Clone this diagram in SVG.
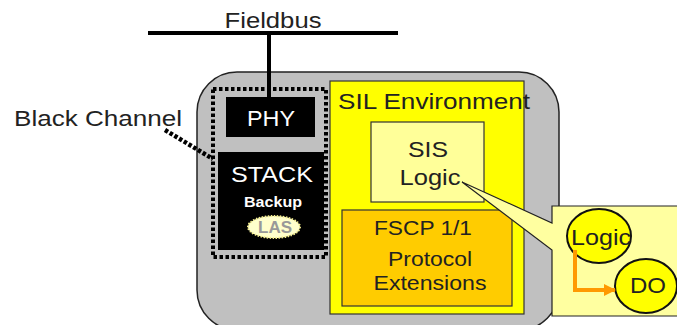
<svg xmlns="http://www.w3.org/2000/svg" width="677" height="325" viewBox="0 0 677 325">
  <defs>
    <style>
      text { font-family: "Liberation Sans", Arial, sans-serif; fill: #222; }
      .lbl { font-size: 22px; }
      .mid { font-size: 20px; }
      .wht { fill: #fff; }
      .box { stroke: #333; stroke-width: 1.2; }
    </style>
    <marker id="arrowHead" viewBox="0 0 12 12" refX="11" refY="6" markerWidth="12" markerHeight="12" orient="auto" markerUnits="userSpaceOnUse">
      <path d="M0,0 L12,6 L0,12 Z" fill="#ff9900"/>
    </marker>
  </defs>

  <!-- device housing -->
  <g id="device">
    <rect x="197" y="72" width="362" height="258" rx="40" ry="40" fill="#c0c0c0" stroke="#222" stroke-width="1.5"/>
  </g>

  <!-- fieldbus line -->
  <g id="fieldbus">
    <text class="lbl" x="273" y="28" text-anchor="middle" textLength="97" lengthAdjust="spacingAndGlyphs">Fieldbus</text>
    <line x1="148" y1="33" x2="398" y2="33" stroke="#000" stroke-width="4"/>
  </g>

  <!-- black channel -->
  <g id="black-channel">
    <text class="lbl" x="14" y="126" textLength="168" lengthAdjust="spacingAndGlyphs">Black Channel</text>
    <rect x="213" y="89" width="113" height="168" fill="none" stroke="#000" stroke-width="4" stroke-dasharray="3.5 2.5"/>
  </g>

  <g id="phy">
    <rect x="226" y="97" width="89" height="40" fill="#000"/>
    <text class="lbl wht" x="271" y="126" text-anchor="middle" textLength="48" lengthAdjust="spacingAndGlyphs">PHY</text>
  </g>

  <g id="stack">
    <rect x="218" y="152" width="106" height="98" fill="#000"/>
    <text class="lbl wht" x="272" y="182" text-anchor="middle" textLength="82" lengthAdjust="spacingAndGlyphs">STACK</text>
    <text class="wht" x="273" y="207" text-anchor="middle" font-size="15" font-weight="bold" textLength="58" lengthAdjust="spacingAndGlyphs">Backup</text>
  </g>

  <g id="las">
    <ellipse cx="274" cy="227" rx="26" ry="11" fill="#ffffcc" stroke="#f4ee90" stroke-width="2" stroke-dasharray="1.5 1.5"/>
    <text x="275" y="233" text-anchor="middle" font-size="16" font-weight="bold" style="fill:#999" textLength="34" lengthAdjust="spacingAndGlyphs">LAS</text>
  </g>

  <g id="sil-environment">
    <rect class="box" x="330" y="81" width="194" height="233" fill="#ffff00"/>
    <text class="lbl" x="338" y="109" textLength="192" lengthAdjust="spacingAndGlyphs">SIL Environment</text>
  </g>

  <g id="sis-logic">
    <rect class="box" x="371" y="122" width="113" height="80" fill="#ffff99"/>
    <text class="lbl" x="428" y="157" text-anchor="middle" font-size="23" textLength="40" lengthAdjust="spacingAndGlyphs">SIS</text>
    <text class="lbl" x="430" y="185" text-anchor="middle" font-size="23" textLength="61" lengthAdjust="spacingAndGlyphs">Logic</text>
  </g>

  <g id="fscp">
    <rect class="box" x="342" y="210" width="170" height="96" fill="#ffcc00"/>
    <text class="mid" x="423" y="235" text-anchor="middle" textLength="98" lengthAdjust="spacingAndGlyphs">FSCP 1/1</text>
    <text class="mid" x="430" y="266" text-anchor="middle" textLength="84" lengthAdjust="spacingAndGlyphs">Protocol</text>
    <text class="mid" x="430" y="290" text-anchor="middle" textLength="113" lengthAdjust="spacingAndGlyphs">Extensions</text>
  </g>

  <!-- zoomed detail of the SIS logic -->
  <g id="callout">
    <path d="M462,182 L552,223 L552,206 L690,206 L690,316 L552,316 L552,250 Z" fill="#ffffa0" stroke="#222" stroke-width="1.2" stroke-linejoin="miter"/>
  </g>

  <g id="logic-node">
    <ellipse cx="599" cy="236" rx="32" ry="27" fill="#ffff00" stroke="#111" stroke-width="2"/>
    <text class="lbl" x="601" y="245" text-anchor="middle" textLength="60" lengthAdjust="spacingAndGlyphs">Logic</text>
  </g>

  <g id="do-node">
    <ellipse cx="646" cy="286" rx="31" ry="27" fill="#ffff00" stroke="#111" stroke-width="2"/>
    <text class="lbl" x="648" y="293" text-anchor="middle" textLength="36" lengthAdjust="spacingAndGlyphs">DO</text>
  </g>

  <!-- connectors -->
  <g id="connectors">
    <line x1="269" y1="33" x2="269" y2="97" stroke="#000" stroke-width="4"/>
    <line x1="165" y1="130" x2="213" y2="159" stroke="#000" stroke-width="4.5" stroke-dasharray="3.5 2"/>
    <path d="M575,250 L575,290 L615,290" fill="none" stroke="#ff9900" stroke-width="4" marker-end="url(#arrowHead)"/>
  </g>
</svg>
